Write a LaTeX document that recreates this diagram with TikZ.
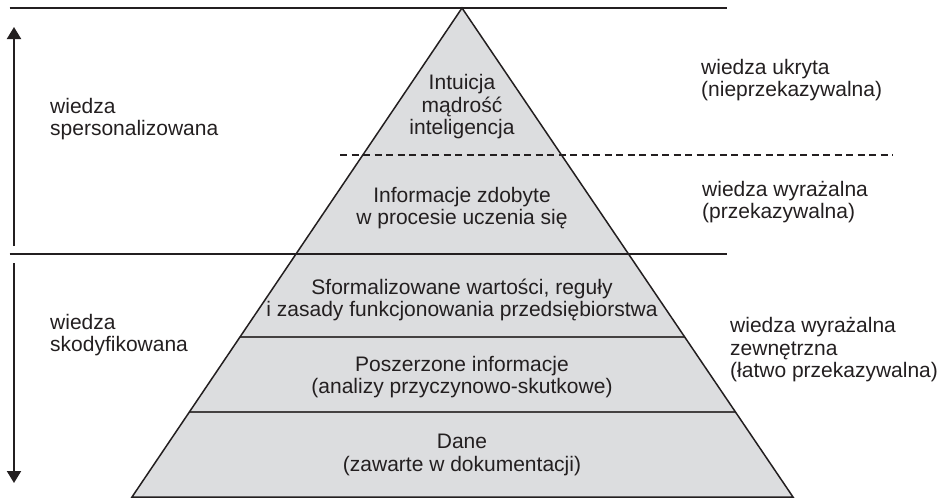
\documentclass[tikz,border=0pt]{standalone}
\usepackage{fontspec}
\setmainfont{Liberation Sans}
\usetikzlibrary{arrows.meta}
\definecolor{pyrfill}{HTML}{DCDDDF}
\definecolor{ink}{HTML}{231F20}
\tikzset{
  lbl/.style={font=\fontsize{21}{22.5}\selectfont, text=ink, inner sep=0pt},
  ctext/.style={lbl, align=center, anchor=center},
  ltext/.style={lbl, align=left, anchor=west},
  mainline/.style={draw=ink, line width=2pt},
  edge/.style={draw=ink, line width=1.5pt, line join=miter},
  layer/.style={draw=ink!85, line width=1.1pt},
  dashline/.style={draw=ink, line width=1.6pt, dash pattern=on 7pt off 4.5pt},
  sidearrow/.style={draw=ink, line width=2pt, -{Triangle[width=14pt,length=12pt]}}
}
\begin{document}
\begin{tikzpicture}[x=1pt,y=-1pt]
\useasboundingbox (0,0) rectangle (944,501);
% triangle
\coordinate (apex) at (462,8);
\coordinate (bl) at (132,497);
\coordinate (br) at (793,497);
\fill[pyrfill] (apex) -- (bl) -- (br) -- cycle;
\begin{scope}
  \clip (apex) -- (bl) -- (br) -- cycle;
  \coordinate (l1a) at (100,337); \coordinate (l1b) at (850,337);
  \coordinate (l2a) at (100,412); \coordinate (l2b) at (850,412);
  \draw[layer] (l1a) -- (l1b);
  \draw[layer] (l2a) -- (l2b);
\end{scope}
\draw[edge] (apex) -- (bl) -- (br) -- cycle;
% horizontal lines
\coordinate (t1) at (9.5,7.5); \coordinate (t2) at (727,7.5);
\coordinate (m1) at (9.5,254); \coordinate (m2) at (727,254);
\coordinate (d1) at (340,155); \coordinate (d2) at (893,155);
\draw[mainline] (t1) -- (t2);
\draw[mainline] (m1) -- (m2);
\draw[dashline] (d1) -- (d2);
% side arrows
\coordinate (ua) at (14,246); \coordinate (ub) at (14,27);
\coordinate (da) at (14,263); \coordinate (db) at (14,483);
\draw[sidearrow] (ua) -- (ub);
\draw[sidearrow] (da) -- (db);
% pyramid texts
\node[ctext] (intu) at (462,107) {Intuicja\\mądrość\\inteligencja};
\node[ctext] (info) at (462,208) {Informacje zdobyte\\w procesie uczenia się};
\node[ctext] (sfor) at (462,300) {Sformalizowane wartości, reguły\\i zasady funkcjonowania przedsiębiorstwa};
\node[ctext] (posz) at (462,377) {Poszerzone informacje\\(analizy przyczynowo-skutkowe)};
\node[ctext] (dane) at (462,455) {Dane\\(zawarte w dokumentacji)};
% side labels
\node[ltext] (spers) at (50,119) {wiedza\\spersonalizowana};
\node[ltext] (skod) at (50,335) {wiedza\\skodyfikowana};
\node[ltext] (ukr) at (701,80) {wiedza ukryta\\(nieprzekazywalna)};
\node[ltext] (wyr) at (702,202) {wiedza wyrażalna\\(przekazywalna)};
\node[ltext] (zew) at (730,350) {wiedza wyrażalna\\zewnętrzna\\(łatwo przekazywalna)};
\end{tikzpicture}
\end{document}
